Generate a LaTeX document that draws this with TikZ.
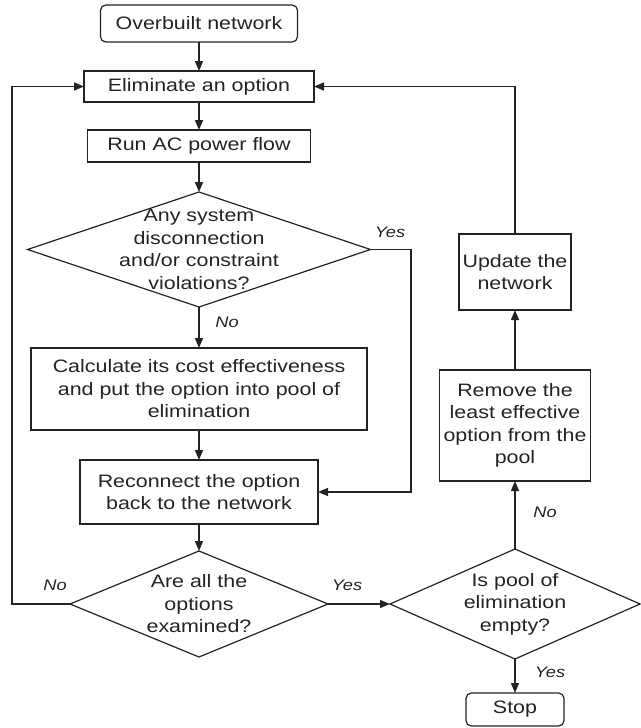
\documentclass[tikz,border=0pt]{standalone}
\usepackage{fontspec}
\setmainfont{Liberation Sans}[FakeStretch=1.19]
\usetikzlibrary{shapes.geometric,arrows.meta}
\definecolor{ink}{RGB}{35,35,35}
\begin{document}
\begin{tikzpicture}[x=0.75pt,y=-0.75pt,
  every node/.style={font=\fontsize{13.5}{16.9}\selectfont, text=ink, inner sep=0pt, outer sep=0pt},
  sz/.style 2 args={minimum width=#1*0.75pt, minimum height=#2*0.75pt},
  box/.style={draw=ink, line width=0.9pt, rectangle, align=center},
  rbox/.style={box, rounded corners=4pt},
  dia/.style={draw=ink, line width=0.9pt, diamond},
  lab/.style={font=\fontsize{11.5}{14}\selectfont\itshape},
  conn/.style={draw=ink, line width=1.1pt, -{Triangle[length=7.5pt,width=6pt]}}
]
\useasboundingbox (0,0) rectangle (640,728);

% main column
\node[rbox, sz={197}{37}] (start) at (199,23.5) {Overbuilt network};
\node[box, sz={230}{31}] (elim) at (199,86.5) {Eliminate an option};
\node[box, sz={223}{32}] (runac) at (199,146) {Run AC power flow};
\node[dia, sz={343}{115}] (d1) at (199,249.5) {};
\node[align=center] (d1t) at (d1) {Any system\\disconnection\\and/or constraint\\violations?};
\node[box, sz={336}{82}] (calc) at (199,389) {Calculate its cost effectiveness\\and put the option into pool of\\elimination};
\node[box, sz={238}{64}] (recon) at (199,492) {Reconnect the option\\back to the network};
\node[dia, sz={258}{106}] (d2) at (199,604) {};
\node[align=center] (d2t) at (d2) {Are all the\\options\\examined?};

% right column
\node[dia, sz={250}{110}] (d3) at (515,604) {};
\node[align=center] (d3t) at (d3) {Is pool of\\elimination\\empty?};
\node[rbox, sz={98}{33}] (stop) at (515,709.5) {Stop};
\node[box, sz={151}{111}] (remove) at (515,425.5) {Remove the\\least effective\\option from the\\pool};
\node[box, sz={112}{76}] (update) at (515,272) {Update the\\network};

% connectors
\draw[conn] (start) -- (elim);
\draw[conn] (elim) -- (runac);
\draw[conn] (runac) -- (d1);
\draw[conn] (d1) -- (calc);
\draw[conn] (calc) -- (recon);
\draw[conn] (recon) -- (d2);
\draw[conn] (d1.east) -- ++(40.5,0) |- (recon.east);
\draw[conn] (d2.west) -- ++(-58,0) |- (elim.west);
\draw[conn] (d2.east) -- (d3.west);
\draw[conn] (d3.south) -- (stop.north);
\draw[conn] (d3.north) -- (remove.south);
\draw[conn] (remove.north) -- (update.south);
\draw[conn] (update.north) |- (elim.east);

% labels
\node[lab] (l1) at (390,232) {Yes};
\node[lab] (l2) at (227,322) {No};
\node[lab] (l3) at (55,585) {No};
\node[lab] (l4) at (347,585) {Yes};
\node[lab] (l5) at (550,672) {Yes};
\node[lab] (l6) at (545,512) {No};
\end{tikzpicture}
\end{document}
